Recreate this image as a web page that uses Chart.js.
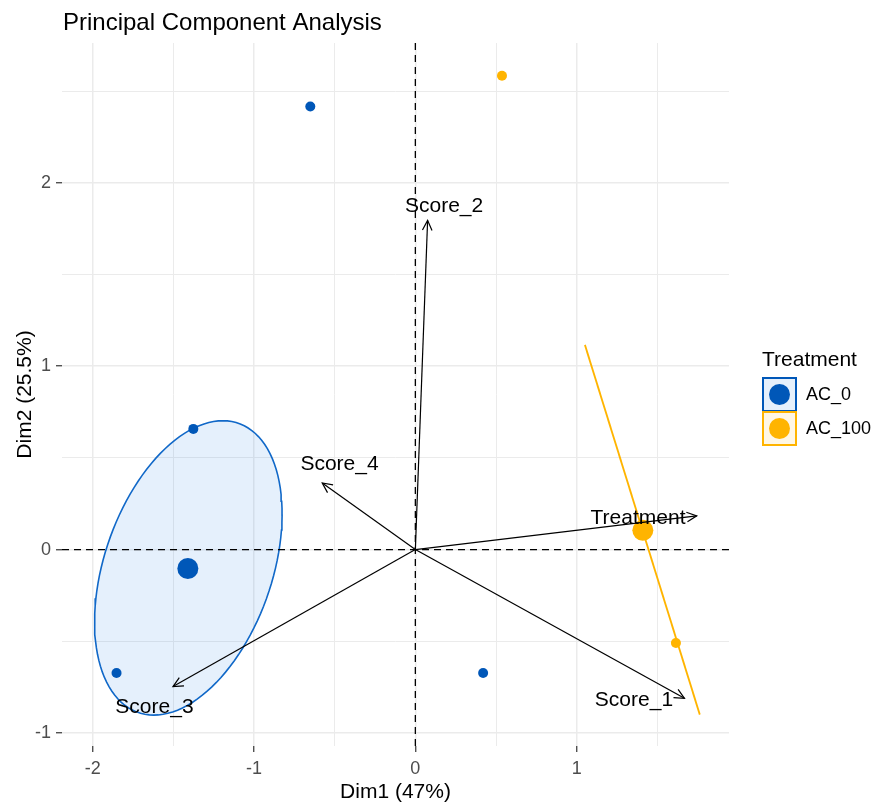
<!DOCTYPE html>
<html><head><meta charset="utf-8">
<script src="https://cdn.jsdelivr.net/npm/chart.js@4.4.0/dist/chart.umd.min.js"></script>
<style>html,body{margin:0;padding:0;background:#fff}canvas{display:block}</style>
</head><body>
<canvas id="c" width="873" height="804"></canvas>
<script>
// ---- data ----
const groups = ['AC_0', 'AC_100'];
const groupColors = ['#0057B8', '#FFB400'];
const groupFills = ['rgba(0,110,225,0.1)', 'rgba(255,180,0,0.1)'];
const ac0X = [-0.651, -1.376, -1.852, 0.420];
const ac0Y = [2.416, 0.658, -0.673, -0.673];
const ac100X = [0.537, 1.615];
const ac100Y = [2.583, -0.509];
const centroidX = [-1.41, 1.41];
const centroidY = [-0.103, 0.105];
const variables = ['Score_1', 'Score_2', 'Score_3', 'Score_4', 'Treatment'];
const arrowX = [1.668, 0.076, -1.502, -0.577, 1.744];
const arrowY = [-0.811, 1.795, -0.747, 0.363, 0.184];
const labelX = [1.355, 0.178, -1.617, -0.470, 1.380];
const labelY = [-0.820, 1.870, -0.859, 0.465, 0.173];
const xTicks = [-2, -1.5, -1, -0.5, 0, 0.5, 1, 1.5];
const yTicks = [-1, -0.5, 0, 0.5, 1, 1.5, 2, 2.5];
const xRange = [-2.190, 1.944];
const yRange = [-1.071, 2.762];
// confidence ellipse of AC_0 (center, semi-axes, angle in degrees)
const ellipse0 = { cx: -1.407, cy: -0.100, a: 0.849, b: 0.511, angle: 65.9 };
// degenerate ellipse of AC_100 (a segment)
const seg100X = [1.051, 1.763];
const seg100Y = [1.116, -0.900];

const FONT = '"Liberation Sans", Arial, sans-serif';

function ellipsePoints(e) {
  const pts = [];
  const th = e.angle * Math.PI / 180;
  for (let k = 0; k <= 120; k++) {
    const t = k / 120 * 2 * Math.PI;
    pts.push({
      x: e.cx + e.a * Math.cos(th) * Math.cos(t) - e.b * Math.sin(th) * Math.sin(t),
      y: e.cy + e.a * Math.sin(th) * Math.cos(t) + e.b * Math.cos(th) * Math.sin(t)
    });
  }
  return pts;
}
const zip = (xs, ys) => xs.map((v, i) => ({ x: v, y: ys[i] }));

const datasets = [];
datasets.push({ data: ellipsePoints(ellipse0), showLine: true, borderColor: '#1068C8', borderWidth: 1.6, pointRadius: 0, order: 9 });
datasets.push({ data: zip(seg100X, seg100Y), showLine: true, borderColor: groupColors[1], borderWidth: 1.8, pointRadius: 0, order: 8 });
datasets.push({ data: [{ x: xRange[0], y: 0 }, { x: xRange[1], y: 0 }], showLine: true, borderColor: '#000', borderWidth: 1.3, borderDash: [7, 5], pointRadius: 0, order: 7 });
datasets.push({ data: [{ x: 0, y: yRange[0] }, { x: 0, y: yRange[1] }], showLine: true, borderColor: '#000', borderWidth: 1.3, borderDash: [7, 5], pointRadius: 0, order: 7 });
datasets.push({ data: zip(ac0X, ac0Y), backgroundColor: groupColors[0], borderWidth: 0, pointRadius: 5, order: 4 });
datasets.push({ data: zip(ac100X, ac100Y), backgroundColor: groupColors[1], borderWidth: 0, pointRadius: 5, order: 4 });
datasets.push({ data: [{ x: centroidX[0], y: centroidY[0] }], backgroundColor: groupColors[0], borderWidth: 0, pointRadius: 10.5, order: 3 });
datasets.push({ data: [{ x: centroidX[1], y: centroidY[1] }], backgroundColor: groupColors[1], borderWidth: 0, pointRadius: 10.5, order: 3 });
variables.forEach((v, i) => {
  datasets.push({ data: [{ x: 0, y: 0 }, { x: arrowX[i], y: arrowY[i] }], showLine: true, borderColor: '#000', borderWidth: 1.2, pointRadius: 0, order: 1 });
});

const ellipseFill = {
  id: 'ellipseFill',
  beforeDatasetsDraw(chart) {
    const meta = chart.getDatasetMeta(0);
    const { ctx, chartArea } = chart;
    ctx.save();
    ctx.beginPath();
    ctx.rect(chartArea.left, chartArea.top, chartArea.right - chartArea.left, chartArea.bottom - chartArea.top);
    ctx.clip();
    ctx.beginPath();
    meta.data.forEach((p, i) => i ? ctx.lineTo(p.x, p.y) : ctx.moveTo(p.x, p.y));
    ctx.closePath();
    ctx.fillStyle = groupFills[0];
    ctx.fill();
    ctx.restore();
  }
};

const arrowsAndLabels = {
  id: 'arrowsAndLabels',
  afterDatasetsDraw(chart) {
    const { ctx, scales: { x, y } } = chart;
    ctx.save();
    ctx.strokeStyle = '#000';
    ctx.lineWidth = 1.2;
    const x0 = x.getPixelForValue(0), y0 = y.getPixelForValue(0);
    for (let i = 0; i < arrowX.length; i++) {
      const x1 = x.getPixelForValue(arrowX[i]), y1 = y.getPixelForValue(arrowY[i]);
      const ang = Math.atan2(y1 - y0, x1 - x0);
      const L = 11, sp = Math.PI / 7;
      ctx.beginPath();
      ctx.moveTo(x1 - L * Math.cos(ang - sp), y1 - L * Math.sin(ang - sp));
      ctx.lineTo(x1, y1);
      ctx.lineTo(x1 - L * Math.cos(ang + sp), y1 - L * Math.sin(ang + sp));
      ctx.stroke();
    }
    ctx.font = '21px ' + FONT;
    ctx.fillStyle = '#000';
    ctx.textAlign = 'center';
    ctx.textBaseline = 'middle';
    variables.forEach((v, i) => ctx.fillText(v, x.getPixelForValue(labelX[i]), y.getPixelForValue(labelY[i])));
    ctx.restore();
  },
  afterDraw(chart) {
    const { ctx } = chart;
    ctx.save();
    ctx.fillStyle = '#000';
    ctx.textAlign = 'left';
    ctx.textBaseline = 'alphabetic';
    ctx.font = '24px ' + FONT;
    ctx.fillText('Principal Component Analysis', 63, 29.5);
    ctx.font = '21px ' + FONT;
    ctx.fillText('Treatment', 762, 366);
    groups.forEach((g, i) => {
      const top = 378 + i * 34, left = 763, w = 33, h = 33;
      ctx.fillStyle = '#fff';
      ctx.fillRect(left, top, w, h);
      ctx.fillStyle = groupFills[i];
      ctx.fillRect(left, top, w, h);
      ctx.strokeStyle = groupColors[i];
      ctx.lineWidth = 2;
      ctx.strokeRect(left, top, w, h);
      ctx.beginPath();
      ctx.arc(left + w / 2, top + h / 2, 10.5, 0, 2 * Math.PI);
      ctx.fillStyle = groupColors[i];
      ctx.fill();
      ctx.fillStyle = '#000';
      ctx.font = '18px ' + FONT;
      ctx.textBaseline = 'middle';
      ctx.fillText(g, 806, top + h / 2 + 1);
      ctx.textBaseline = 'alphabetic';
    });
    ctx.restore();
  }
};

const isInt = v => Math.abs(v - Math.round(v)) < 1e-9;
function gridOpts() {
  return {
    color: '#EBEBEB',
    lineWidth: c => (c.tick && isInt(c.tick.value)) ? 1.5 : 1,
    tickLength: 6,
    tickWidth: 1.2,
    tickColor: c => (c.tick && isInt(c.tick.value)) ? '#333333' : 'rgba(0,0,0,0)',
    drawTicks: true
  };
}

new Chart(document.getElementById('c'), {
  type: 'scatter',
  data: { datasets },
  options: {
    responsive: false,
    animation: false,
    devicePixelRatio: 1,
    layout: { padding: { left: 0, top: 43, right: 144, bottom: 0 } },
    plugins: { legend: { display: false }, tooltip: { enabled: false }, title: { display: false } },
    scales: {
      x: {
        type: 'linear', min: xRange[0], max: xRange[1], bounds: 'data',
        afterBuildTicks: s => { s.ticks = xTicks.map(v => ({ value: v })); },
        afterFit: s => { s.height = 58; },
        grid: gridOpts(),
        border: { display: false },
        ticks: { callback: v => isInt(v) ? String(v) : '', color: '#4D4D4D', font: { size: 18, family: FONT }, padding: 6, maxRotation: 0, autoSkip: false },
        title: { display: true, text: 'Dim1 (47%)', color: '#000', font: { size: 21, family: FONT, lineHeight: 1 }, padding: { top: 0, bottom: 1 } }
      },
      y: {
        type: 'linear', min: yRange[0], max: yRange[1], bounds: 'data',
        afterBuildTicks: s => { s.ticks = yTicks.map(v => ({ value: v })); },
        afterFit: s => { s.width = 62; },
        grid: gridOpts(),
        border: { display: false },
        ticks: { callback: v => isInt(v) ? String(v) : '', color: '#4D4D4D', font: { size: 18, family: FONT }, padding: 5, autoSkip: false },
        title: { display: true, text: 'Dim2 (25.5%)', color: '#000', font: { size: 21, family: FONT, lineHeight: 1 }, padding: { top: 14.5, bottom: 0 } }
      }
    }
  },
  plugins: [ellipseFill, arrowsAndLabels]
});
</script>
</body></html>
